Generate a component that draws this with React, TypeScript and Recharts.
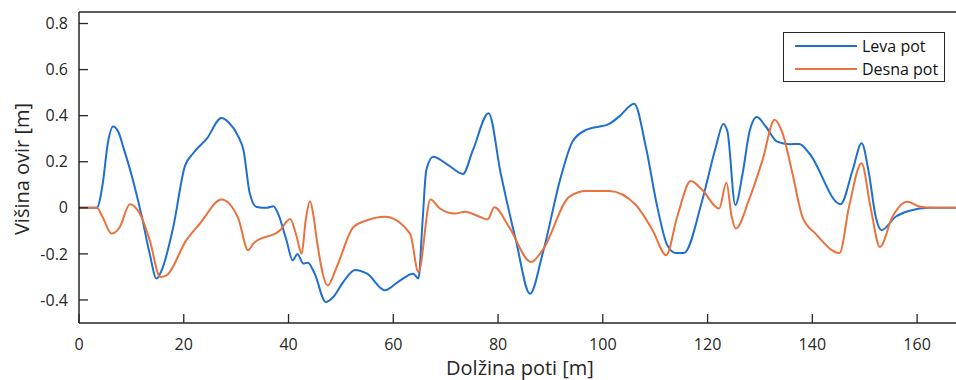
import { LineChart, Line, XAxis, YAxis } from "recharts";

// distance along the path [m] and obstacle height [m]
const levaPot: [number, number][] = [
  [0, 0], [3.4, 0], [4.5, 0.1], [5.5, 0.28], [6.5, 0.353], [7.5, 0.33], [8.5, 0.26], [10.3, 0.12],
  [12.0, -0.039], [13.5, -0.2], [14.8, -0.307], [15.8, -0.27], [18.0, -0.083], [20.2, 0.18],
  [21.8, 0.237], [24.4, 0.3], [27.2, 0.39], [28.6, 0.37], [30.4, 0.31], [31.4, 0.25], [32.6, 0.063],
  [33.9, 0.004], [35.8, 0], [37.1, 0.007], [38.0, -0.025], [39.6, -0.14], [40.8, -0.228], [41.7, -0.2],
  [42.8, -0.242], [43.7, -0.238], [45.0, -0.286], [47.1, -0.409], [48.5, -0.388], [50.5, -0.32],
  [52.7, -0.27], [55.0, -0.286], [58.4, -0.358], [61.0, -0.32], [63.8, -0.286], [64.8, -0.307],
  [65.6, -0.054], [66.3, 0.164], [67.6, 0.222], [70.5, 0.185], [73.3, 0.147], [75.2, 0.25],
  [78.2, 0.411], [80.5, 0.15], [83.4, -0.14], [86.1, -0.373], [88.5, -0.2], [92.0, 0.135],
  [94.2, 0.287], [96.8, 0.338], [101.2, 0.364], [103.1, 0.396], [106.0, 0.452], [108.2, 0.266],
  [110.4, 0.004], [112.3, -0.162], [113.9, -0.196], [115.5, -0.196], [119.0, 0.034], [121.6, 0.266],
  [123.0, 0.364], [123.8, 0.33], [125.3, 0.012], [126.7, 0.15], [128.0, 0.33], [129.4, 0.394],
  [131.1, 0.353], [133.3, 0.287], [135.6, 0.276], [137.5, 0.277], [139.4, 0.237], [145.4, 0.016],
  [147.7, 0.164], [149.4, 0.28], [150.8, 0.15], [152.1, -0.039], [153.2, -0.097], [155.9, -0.039],
  [158.4, -0.014], [162.4, 0], [168, 0],
];

const desnaPot: [number, number][] = [
  [0, 0], [3.4, 0], [4.5, -0.04], [6.2, -0.112], [7.8, -0.083], [9.7, 0.016], [11.6, -0.025],
  [13.5, -0.14], [15.5, -0.3], [16.7, -0.293], [20.5, -0.14], [23.1, -0.068], [27.2, 0.036],
  [30.4, -0.046], [32.3, -0.184], [33.3, -0.155], [38.4, -0.097], [40.3, -0.049], [41.5, -0.12],
  [42.5, -0.199], [43.3, -0.05], [44.1, 0.029], [44.8, -0.04], [45.4, -0.14], [47.5, -0.337],
  [49.2, -0.257], [52.4, -0.083], [55.0, -0.054], [58.4, -0.039], [63.2, -0.112], [64.8, -0.279],
  [67.1, 0.036], [68.9, -0.003], [71.8, -0.025], [73.7, -0.017], [76.5, -0.039], [78.0, -0.051],
  [79.3, 0.002], [82.1, -0.083], [86.3, -0.235], [88.5, -0.184], [93.6, 0.048], [96.8, 0.073],
  [101.2, 0.073], [106.3, 0.012], [109.5, -0.097], [112.1, -0.206], [114.2, -0.039], [116.8, 0.116],
  [119.0, 0.077], [122.2, -0.003], [123.6, 0.109], [124.6, -0.039], [125.4, -0.09], [127.9, 0.034],
  [130.5, 0.208], [132.8, 0.382], [134.3, 0.324], [136.2, 0.15], [138.1, -0.039], [140.6, -0.112],
  [145.2, -0.196], [147.0, 0.004], [149.4, 0.193], [151.1, 0.004], [152.9, -0.17], [155.3, -0.039],
  [158.1, 0.026], [160.6, 0.005], [163.0, 0], [168, 0],
];

const xTicks = [0, 20, 40, 60, 80, 100, 120, 140, 160];
const yTicks = [-0.4, -0.2, 0, 0.2, 0.4, 0.6, 0.8];

const BLUE = "#1f6fcf";
const ORANGE = "#e9723d";
const INK = "#262626";
const FONT = "'Open Sans', sans-serif";

const toRows = (pts: [number, number][]) => pts.map(([x, y]) => ({ x, y }));

function LegendBox() {
  const row = (color: string, label: string) => (
    <div style={{ display: "flex", alignItems: "center", height: 23 }}>
      <div style={{ width: 62, height: 2, background: color, marginLeft: 11, marginRight: 5 }} />
      <span style={{ fontSize: 16, color: "#111" }}>{label}</span>
    </div>
  );
  return (
    <div style={{ position: "absolute", left: 783, top: 32, border: `1.5px solid ${INK}`, background: "#fff", width: 162, height: 50, boxSizing: "border-box", paddingTop: 1, fontFamily: FONT }}>
      {row(BLUE, "Leva pot")}
      {row(ORANGE, "Desna pot")}
    </div>
  );
}

export default function App() {
  const tickStyle = { fontSize: 16, fill: INK, fontFamily: FONT };
  const axisLine = { stroke: INK, strokeWidth: 1.5 };
  const tickLine = { stroke: INK, strokeWidth: 1.3 };
  return (
    <div style={{ position: "absolute", left: 0, top: 0, width: 956, height: 380, overflow: "hidden", background: "#fff" }}>
      <LineChart width={962} height={380} margin={{ top: 11, right: 2, bottom: 27, left: 39 }}>
        <XAxis xAxisId="b" type="number" dataKey="x" domain={[0, 168]} ticks={xTicks} interval={0}
          height={30} tickSize={-9} tickMargin={25} axisLine={axisLine} tickLine={tickLine}
          tick={tickStyle} allowDataOverflow />
        <XAxis xAxisId="t" orientation="top" type="number" dataKey="x" domain={[0, 168]} ticks={xTicks}
          interval={0} height={1} tickSize={-9} axisLine={axisLine} tickLine={tickLine} tick={false}
          allowDataOverflow />
        <YAxis yAxisId="l" type="number" domain={[-0.5, 0.85]} ticks={yTicks} interval={0} width={40}
          tickSize={-9} tickMargin={20} axisLine={axisLine} tickLine={tickLine} tick={tickStyle}
          allowDataOverflow />
        <YAxis yAxisId="r" orientation="right" type="number" domain={[-0.5, 0.85]} ticks={yTicks}
          interval={0} width={1} tickSize={-9} axisLine={axisLine} tickLine={tickLine} tick={false}
          allowDataOverflow />
        <Line xAxisId="b" yAxisId="l" data={toRows(levaPot)} dataKey="y" name="Leva pot" type="monotone"
          stroke={BLUE} strokeWidth={2} dot={false} isAnimationActive={false} />
        <Line xAxisId="b" yAxisId="l" data={toRows(desnaPot)} dataKey="y" name="Desna pot" type="monotone"
          stroke={ORANGE} strokeWidth={2} dot={false} isAnimationActive={false} />
      </LineChart>
      <LegendBox />
      <svg width={956} height={380} style={{ position: "absolute", left: 0, top: 0, pointerEvents: "none" }}>
        <text x={520} y={375} textAnchor="middle" fontSize={20} fill={INK} fontFamily={FONT}>Dolžina poti [m]</text>
        <text x={29} y={169} textAnchor="middle" fontSize={20} fill={INK} fontFamily={FONT}
          transform="rotate(-90 29 169)">Višina ovir [m]</text>
      </svg>
    </div>
  );
}
